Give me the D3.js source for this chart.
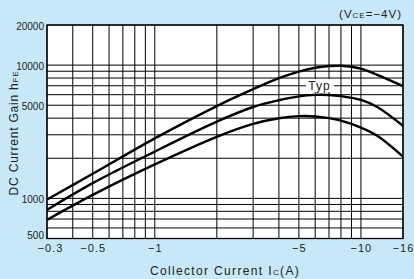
<!DOCTYPE html>
<html><head><meta charset="utf-8">
<script src="https://cdn.jsdelivr.net/npm/d3@7"></script>
<style>
html,body{margin:0;padding:0;background:#c8e8f8;}
svg{display:block;font-family:"Liberation Sans",Arial,sans-serif;}
</style></head>
<body><svg id="c" width="414" height="279"></svg>
<script>
// Collector current |Ic| (A)
const currents = [0.3, 0.5, 1, 2, 3, 4, 5, 6, 7, 8, 10, 12, 16];
// hFE curves
const curveHigh = [980, 1530, 2820, 4930, 6600, 7980, 8950, 9550, 9850, 9880, 9400, 8450, 6950];
const curveTyp  = [820, 1301, 2245, 3767, 4850, 5450, 5830, 5980, 5970, 5850, 5480, 4850, 3500];
const curveLow  = [690, 1063, 1800, 2900, 3620, 3990, 4140, 4120, 4000, 3830, 3400, 2950, 2060];
// grid and ticks
const xGrid = [0.3,0.4,0.5,0.6,0.7,0.8,0.9,1,2,3,4,5,6,7,8,9,10,16];
const yGrid = [500,600,700,800,900,1000,2000,3000,4000,5000,6000,7000,8000,9000,10000,20000];
const xTickVals = [0.3, 0.5, 1, 5, 10, 16];
const xTickLabels = ["\u22120.3", "\u22120.5", "\u22121", "\u22125", "\u221210", "\u221216"];
const yTickVals = [500, 1000, 5000, 10000, 20000];
const yTickLabels = ["500", "1000", "5000", "10000", "20000"];

const svg = d3.select("#c");
const L = 47, R = 403, T = 25, B = 238.5;
const x = d3.scaleLog().domain([0.3, 16]).range([L, R]);
const y = d3.scaleLog().domain([500, 20000]).range([B, T]);

svg.append("rect").attr("width",414).attr("height",279).attr("fill","#c8e8f8");
svg.append("rect").attr("x",L).attr("y",T).attr("width",R-L).attr("height",B-T).attr("fill","#fff");

const g = svg.append("g");
g.selectAll(".vx").data(xGrid).enter().append("line")
  .attr("x1",d=>x(d)).attr("x2",d=>x(d)).attr("y1",T).attr("y2",B)
  .attr("stroke","#000").attr("stroke-width",1);
g.selectAll(".hy").data(yGrid).enter().append("line")
  .attr("x1",L).attr("x2",R).attr("y1",d=>y(d)).attr("y2",d=>y(d))
  .attr("stroke","#000").attr("stroke-width",1);
svg.append("rect").attr("x",L).attr("y",T).attr("width",R-L).attr("height",B-T)
  .attr("fill","none").attr("stroke","#000").attr("stroke-width",1.3);

svg.append("clipPath").attr("id","clp").append("rect")
  .attr("x",L).attr("y",T).attr("width",R-L).attr("height",B-T);

const line = d3.line().x((d,i)=>x(currents[i])).y(d=>y(d)).curve(d3.curveCatmullRom.alpha(0.5));
[curveHigh, curveTyp, curveLow].forEach(s=>{
  svg.append("path").attr("d",line(s)).attr("fill","none")
    .attr("stroke","#000").attr("stroke-width",2.4).attr("clip-path","url(#clp)");
});

// Typ label
svg.append("rect").attr("x",306).attr("y",79).attr("width",28).attr("height",13).attr("fill","#fff");
svg.append("text").attr("x",319.5).attr("y",89.5).attr("text-anchor","middle")
  .attr("font-size",12).attr("letter-spacing",1).attr("fill","#222").text("Typ");

// tick labels
svg.selectAll(".yt").data(yTickVals).enter().append("text")
  .attr("x",44).attr("y",d=>y(d) + (d === 500 ? 0 : 4.5)).attr("text-anchor","end")
  .attr("font-size",10).attr("fill","#222").text((d,i)=>yTickLabels[i]);
svg.selectAll(".xt").data(xTickVals).enter().append("text")
  .attr("x",(d,i)=>x(d) + (i === 0 ? 3.5 : 0.5)).attr("y",252).attr("text-anchor","middle")
  .attr("font-size",11).attr("letter-spacing",1).attr("fill","#222").text((d,i)=>xTickLabels[i]);

// axis titles
const xt = svg.append("text").attr("x",225).attr("y",275).attr("text-anchor","middle")
  .attr("font-size",12).attr("letter-spacing",1.35).attr("fill","#222");
xt.append("tspan").text("Collector Current I");
xt.append("tspan").attr("font-size",8).text("C");
xt.append("tspan").text("(A)");

const yt = svg.append("text").attr("transform","translate(17.5,133) rotate(-90)")
  .attr("text-anchor","middle").attr("font-size",12).attr("letter-spacing",0.8).attr("fill","#222");
yt.append("tspan").text("DC Current Gain h");
yt.append("tspan").attr("font-size",8).text("FE");

const vt = svg.append("text").attr("x",402).attr("y",18).attr("text-anchor","end")
  .attr("font-size",11.5).attr("letter-spacing",1).attr("fill","#222");
vt.append("tspan").text("(V");
vt.append("tspan").attr("font-size",8).text("CE");
vt.append("tspan").text("=\u22124V)");
</script></body></html>
